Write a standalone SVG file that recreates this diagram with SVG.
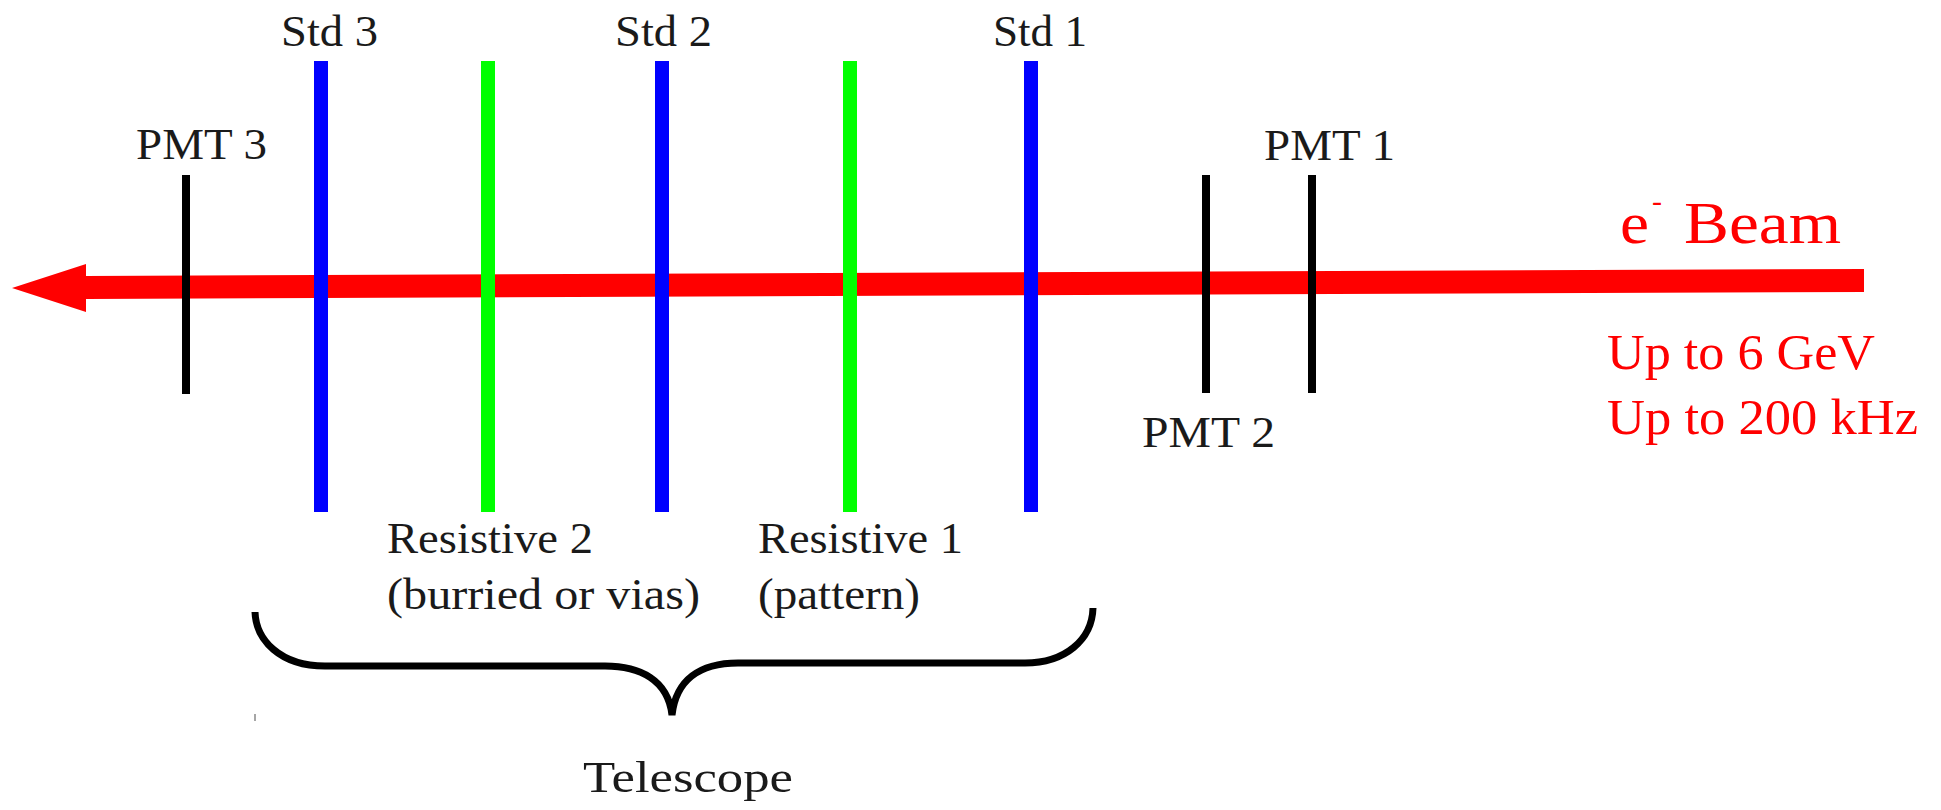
<svg xmlns="http://www.w3.org/2000/svg" width="1941" height="810" viewBox="0 0 1941 810">
<style>
.lbl{font-family:"Liberation Serif","Times New Roman",serif;font-size:45px;fill:#1a1a1a}
.red{font-family:"Liberation Serif","Times New Roman",serif;fill:#ff0000}
.pmt{stroke:#000;stroke-width:8;fill:none}
.std{stroke:#0000ff;stroke-width:14;fill:none}
.res{stroke:#00ff00;stroke-width:14;fill:none}
</style>
<rect width="1941" height="810" fill="#fff"/>
<g id="connectors">
  <polygon id="beam-arrow" points="12,288 86,264 86,276 1864,269 1864,292 86,299 86,312" fill="#ff0000"/>
</g>
<g id="pmt3"><line class="pmt" x1="186" y1="175" x2="186" y2="394"/><text class="lbl" x="136" y="159" textLength="131" lengthAdjust="spacingAndGlyphs">PMT 3</text></g>
<g id="std3"><line class="std" x1="321" y1="61" x2="321" y2="512"/><text class="lbl" x="281" y="46" textLength="97" lengthAdjust="spacingAndGlyphs">Std 3</text></g>
<g id="res2"><line class="res" x1="488" y1="61" x2="488" y2="512"/><text class="lbl" x="387" y="553" textLength="206" lengthAdjust="spacingAndGlyphs">Resistive 2</text><text class="lbl" x="387" y="609" textLength="313" lengthAdjust="spacingAndGlyphs">(burried or vias)</text></g>
<g id="std2"><line class="std" x1="662" y1="61" x2="662" y2="512"/><text class="lbl" x="615" y="46" textLength="97" lengthAdjust="spacingAndGlyphs">Std 2</text></g>
<g id="res1"><line class="res" x1="850" y1="61" x2="850" y2="512"/><text class="lbl" x="758" y="553" textLength="205" lengthAdjust="spacingAndGlyphs">Resistive 1</text><text class="lbl" x="758" y="609" textLength="162" lengthAdjust="spacingAndGlyphs">(pattern)</text></g>
<g id="std1"><line class="std" x1="1031" y1="61" x2="1031" y2="512"/><text class="lbl" x="993" y="46" textLength="94" lengthAdjust="spacingAndGlyphs">Std 1</text></g>
<g id="pmt2"><line class="pmt" x1="1206" y1="175" x2="1206" y2="393"/><text class="lbl" x="1142" y="447" textLength="133" lengthAdjust="spacingAndGlyphs">PMT 2</text></g>
<g id="pmt1"><line class="pmt" x1="1312" y1="175" x2="1312" y2="393"/><text class="lbl" x="1264" y="160" textLength="131" lengthAdjust="spacingAndGlyphs">PMT 1</text></g>
<g id="beam-label">
  <text class="red" x="1620" y="243" font-size="60" textLength="29" lengthAdjust="spacingAndGlyphs">e</text>
  <text class="red" x="1652" y="211" font-size="30">-</text>
  <text class="red" x="1684" y="243" font-size="60" textLength="157" lengthAdjust="spacingAndGlyphs">Beam</text>
  <text class="red" x="1607" y="369" font-size="51" textLength="268" lengthAdjust="spacingAndGlyphs">Up to 6 GeV</text>
  <text class="red" x="1607" y="434" font-size="51" textLength="311" lengthAdjust="spacingAndGlyphs">Up to 200 kHz</text>
</g>
<g id="telescope">
  <path d="M255,612 C256,640 280,666 325,666 L605,666 C640,666 668,680 672,715 C676,680 700,663 738,663 L1025,663 C1065,663 1092,640 1093,608" fill="none" stroke="#000" stroke-width="7"/>
  <line x1="255" y1="714" x2="255" y2="721" stroke="#888" stroke-width="1.5"/>
  <text class="lbl" x="583" y="792" textLength="210" lengthAdjust="spacingAndGlyphs">Telescope</text>
</g>
</svg>
